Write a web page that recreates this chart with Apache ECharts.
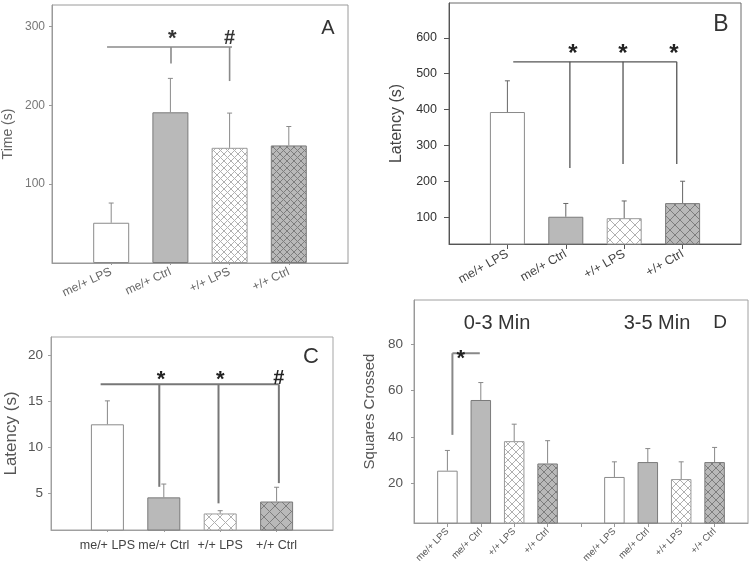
<!DOCTYPE html>
<html>
<head>
<meta charset="utf-8">
<script src="https://cdn.jsdelivr.net/npm/echarts@6/dist/echarts.min.js"></script>
<style>
html,body{margin:0;padding:0;background:#fff;}
#chart{width:749px;height:568px;}
</style>
</head>
<body>
<div id="chart"></div>
<script>
// ---------------- data ----------------
const categories = ["me/+ LPS", "me/+ Ctrl", "+/+ LPS", "+/+ Ctrl"];
const positions4 = [1, 2, 3, 4];
const positionsD = [1, 2, 3, 4, 6, 7, 8, 9];

const aMeans = [51, 191, 146, 149];
const aErr   = [25, 43, 44, 24];
const bMeans = [393, 101, 97, 139];
const bErr   = [87, 37, 48, 61];
const cMeans = [12.5, 4.55, 2.8, 4.1];
const cErr   = [2.55, 1.45, 0.3, 1.55];
const d03Means = [25.6, 56.0, 38.3, 28.7];
const d03Err   = [8.7, 7.5, 7.3, 9.8];
const d35Means = [22.9, 29.3, 22.0, 29.3];
const d35Err   = [6.5, 5.8, 7.4, 6.3];

const aTicks = [100, 200, 300];
const bTicks = [100, 200, 300, 400, 500, 600];
const cTicks = [5, 10, 15, 20];
const dTicks = [20, 40, 60, 80];

// significance brackets in data coordinates: [x1, y1, x2, y2]
const aBracket = [[0.93, 273.7, 3.04, 273.7], [2.01, 273.7, 2.01, 253], [3.0, 273.7, 3.0, 230.6]];
const bBracket = [[1.10, 533, 3.90, 533], [2.07, 533, 2.07, 237], [2.98, 533, 2.98, 248], [3.90, 533, 3.90, 248]];
const cBracket = [[0.88, 16.85, 4.04, 16.85], [1.92, 16.85, 1.92, 5.7], [2.97, 16.85, 2.97, 3.9], [4.04, 16.85, 4.04, 6.1]];
const dBracket = [[1.15, 41, 1.15, 76.1], [1.15, 76.1, 1.97, 76.1]];

// significance marks: positions (data coords) and texts
const aMarkPos = [[2.03, 284.5], [3.0, 284.5]];
const aMarkTxt = ["*", "#"];
const bMarkPos = [[2.12, 553], [2.98, 553], [3.85, 553]];
const bMarkTxt = ["*", "*", "*"];
const cMarkPos = [[1.95, 17.3], [3.0, 17.3], [4.04, 17.5]];
const cMarkTxt = ["*", "*", "#"];
const dMarkPos = [[1.4, 73.5]];
const dMarkTxt = ["*"];

// ---------------- helpers ----------------
const FONT = "'Liberation Sans', Arial, sans-serif";

function hatch(bg, line, size) {
  const c = document.createElement('canvas');
  c.width = size; c.height = size;
  const g = c.getContext('2d');
  g.fillStyle = bg; g.fillRect(0, 0, size, size);
  g.strokeStyle = line; g.lineWidth = 1;
  g.beginPath();
  g.moveTo(-1, -1); g.lineTo(size + 1, size + 1);
  g.moveTo(size + 1, -1); g.lineTo(-1, size + 1);
  g.stroke();
  return { image: c, repeat: 'repeat' };
}

function barStyles(size) {
  return [
    { color: '#ffffff', borderColor: '#8a8a8a', borderWidth: 1 },
    { color: '#b9b9b9', borderColor: '#7a7a7a', borderWidth: 1 },
    { color: hatch('#ffffff', '#b0b0b0', size), borderColor: '#9a9a9a', borderWidth: 1 },
    { color: hatch('#b9b9b9', '#7d7d7d', size), borderColor: '#7a7a7a', borderWidth: 1 }
  ];
}

function barSeries(idx, xs, means, width, size) {
  const st = barStyles(size);
  return {
    type: 'bar', xAxisIndex: idx, yAxisIndex: idx, barWidth: width, clip: true,
    data: means.map((m, i) => ({ value: [xs[i], m], itemStyle: st[i % 4] })),
    silent: true, z: 2
  };
}

function errSeries(idx, xs, means, errs, color) {
  return {
    type: 'custom', xAxisIndex: idx, yAxisIndex: idx, clip: false, silent: true, z: 3,
    data: means.map((m, i) => [xs[i], m, m + errs[i]]),
    renderItem: (params, api) => {
      const p0 = api.coord([api.value(0), api.value(1)]);
      const p1 = api.coord([api.value(0), api.value(2)]);
      return { type: 'group', children: [
        { type: 'line', shape: { x1: p0[0], y1: p0[1], x2: p1[0], y2: p1[1] }, style: { stroke: color, lineWidth: 1 } },
        { type: 'line', shape: { x1: p1[0] - 2.5, y1: p1[1], x2: p1[0] + 2.5, y2: p1[1] }, style: { stroke: color, lineWidth: 1 } }
      ] };
    }
  };
}

function bracketSeries(idx, segs, color, w) {
  return {
    type: 'custom', xAxisIndex: idx, yAxisIndex: idx, clip: false, silent: true, z: 4,
    data: segs,
    renderItem: (params, api) => {
      const p0 = api.coord([api.value(0), api.value(1)]);
      const p1 = api.coord([api.value(2), api.value(3)]);
      return { type: 'line', shape: { x1: p0[0], y1: p0[1], x2: p1[0], y2: p1[1] }, style: { stroke: color, lineWidth: w } };
    }
  };
}

function markSeries(idx, pos, txt, size, color) {
  return {
    type: 'custom', xAxisIndex: idx, yAxisIndex: idx, clip: false, silent: true, z: 5,
    data: pos,
    renderItem: (params, api) => {
      const p = api.coord([api.value(0), api.value(1)]);
      const t = txt[params.dataIndex];
      return { type: 'text', x: p[0], y: p[1], style: {
        text: t, fill: color, font: 'bold ' + (t === '#' ? size - 2 : size) + 'px ' + FONT,
        align: 'center', verticalAlign: 'middle' } };
    }
  };
}

function xAxisDef(idx, max, labelPositions, tickPositions, o) {
  return {
    type: 'value', gridIndex: idx, min: 0, max: max, interval: 1,
    axisLine: { show: true, lineStyle: { color: o.line, width: 1 } },
    axisTick: { show: o.tick > 0, customValues: tickPositions, length: o.tick, lineStyle: { color: o.line } },
    splitLine: { show: false },
    axisLabel: {
      customValues: labelPositions, rotate: o.rotate, margin: o.margin, color: o.color,
      fontSize: o.size, fontFamily: FONT,
      formatter: v => {
        const k = labelPositions.indexOf(v);
        return k >= 0 ? categories[k % 4] : '';
      }
    }
  };
}

function yAxisDef(idx, min, max, ticks, o) {
  return {
    type: 'value', gridIndex: idx, min: min, max: max,
    name: o.name, nameLocation: 'middle', nameGap: o.nameGap,
    nameTextStyle: { fontSize: o.nameSize, color: o.nameColor, fontFamily: FONT },
    axisLine: { show: true, lineStyle: { color: o.line, width: 1 } },
    axisTick: { show: true, customValues: ticks, length: o.tick, lineStyle: { color: o.line } },
    splitLine: { show: false },
    axisLabel: {
      customValues: ticks, margin: o.margin, color: o.color, fontSize: o.size, fontFamily: FONT,
      formatter: v => (ticks.indexOf(v) >= 0 ? String(v) : '')
    }
  };
}

const grids = [
  { left: 52, top: 5, width: 296, height: 258, show: true, borderColor: '#9a9a9a', borderWidth: 1 },
  { left: 449, top: 3, width: 292, height: 241, show: true, borderColor: '#6a6a6a', borderWidth: 1 },
  { left: 51, top: 337, width: 282, height: 193, show: true, borderColor: '#a5a5a5', borderWidth: 1 },
  { left: 414, top: 300, width: 334, height: 223, show: true, borderColor: '#a0a0a0', borderWidth: 1 }
];

const xAxes = [
  xAxisDef(0, 5, positions4, positions4, { line: '#9a9a9a', tick: 2, rotate: 25, margin: 8, color: '#666', size: 12 }),
  xAxisDef(1, 5, positions4, positions4, { line: '#555', tick: 5, rotate: 30, margin: 9, color: '#444', size: 12.5 }),
  xAxisDef(2, 5, positions4, positions4, { line: '#a0a0a0', tick: 2, rotate: 0, margin: 9, color: '#444', size: 12.5 }),
  xAxisDef(3, 10, positionsD, [1, 2, 3, 4, 5, 6, 7, 8, 9], { line: '#999', tick: 4, rotate: 45, margin: 7, color: '#555', size: 9.5 })
];

const yAxes = [
  yAxisDef(0, 0, 327, aTicks, { name: 'Time (s)', nameGap: 37, nameSize: 14, nameColor: '#666', line: '#9a9a9a', tick: 3, margin: 7, color: '#777', size: 12 }),
  yAxisDef(1, 25, 697, bTicks, { name: 'Latency (s)', nameGap: 44, nameSize: 16, nameColor: '#444', line: '#555', tick: 5, margin: 12, color: '#333', size: 12.5 }),
  yAxisDef(2, 1, 22, cTicks, { name: 'Latency (s)', nameGap: 31, nameSize: 17, nameColor: '#555', line: '#a0a0a0', tick: 3, margin: 8, color: '#555', size: 13.5 }),
  yAxisDef(3, 3.1, 99, dTicks, { name: 'Squares Crossed', nameGap: 37, nameSize: 15, nameColor: '#555', line: '#999', tick: 3, margin: 11, color: '#555', size: 13.5 })
];

const dMeans = d03Means.concat(d35Means);
const dErr = d03Err.concat(d35Err);

const series = [
  barSeries(0, positions4, aMeans, 36, 7),
  errSeries(0, positions4, aMeans, aErr, '#8a8a8a'),
  bracketSeries(0, aBracket, '#8a8a8a', 1.6),
  markSeries(0, aMarkPos, aMarkTxt, 22, '#333'),

  barSeries(1, positions4, bMeans, 35, 10),
  errSeries(1, positions4, bMeans, bErr, '#666'),
  bracketSeries(1, bBracket, '#555', 1.3),
  markSeries(1, bMarkPos, bMarkTxt, 24, '#222'),

  barSeries(2, positions4, cMeans, 33, 11),
  errSeries(2, positions4, cMeans, cErr, '#888'),
  bracketSeries(2, cBracket, '#777', 2),
  markSeries(2, cMarkPos, cMarkTxt, 22, '#222'),

  barSeries(3, positionsD, dMeans, 20.5, 8),
  errSeries(3, positionsD, dMeans, dErr, '#888'),
  bracketSeries(3, dBracket, '#888', 2),
  markSeries(3, dMarkPos, dMarkTxt, 22, '#222')
];

const graphic = [
  { type: 'text', x: 328, y: 28, style: { text: 'A', font: '20px ' + FONT, fill: '#333', align: 'center', verticalAlign: 'middle' } },
  { type: 'text', x: 721, y: 25, style: { text: 'B', font: '23px ' + FONT, fill: '#333', align: 'center', verticalAlign: 'middle' } },
  { type: 'text', x: 311, y: 357, style: { text: 'C', font: '22px ' + FONT, fill: '#333', align: 'center', verticalAlign: 'middle' } },
  { type: 'text', x: 720, y: 323, style: { text: 'D', font: '19px ' + FONT, fill: '#333', align: 'center', verticalAlign: 'middle' } },
  { type: 'text', x: 497, y: 323, style: { text: '0-3 Min', font: '20px ' + FONT, fill: '#333', align: 'center', verticalAlign: 'middle' } },
  { type: 'text', x: 657, y: 323, style: { text: '3-5 Min', font: '20px ' + FONT, fill: '#333', align: 'center', verticalAlign: 'middle' } }
];

const chart = echarts.init(document.getElementById('chart'), null, { renderer: 'canvas' });
chart.setOption({
  animation: false,
  backgroundColor: '#ffffff',
  textStyle: { fontFamily: FONT },
  grid: grids,
  xAxis: xAxes,
  yAxis: yAxes,
  series: series,
  graphic: graphic
});
</script>
</body>
</html>
